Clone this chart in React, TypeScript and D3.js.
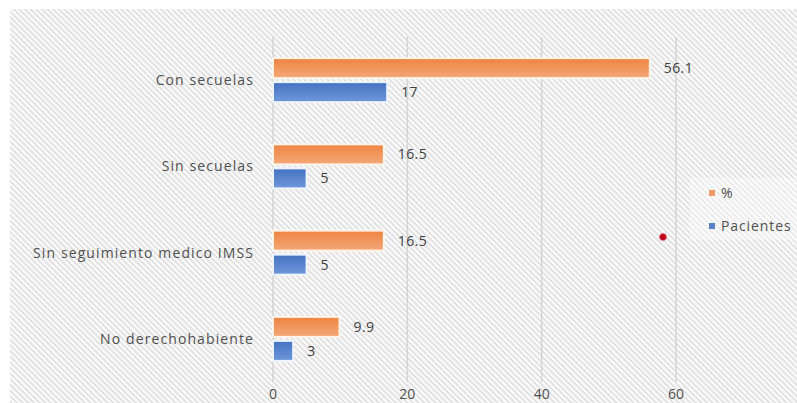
import React from "react";
import * as d3 from "d3";

const categories = ["Con secuelas", "Sin secuelas", "Sin seguimiento medico IMSS", "No derechohabiente"];
const pctValues = [56.1, 16.5, 16.5, 9.9];
const patientValues = [17, 5, 5, 3];
const xTicks = [0, 20, 40, 60];
const seriesNames = ["%", "Pacientes"];

const W = 797;
const H = 403;

export default function App() {
  const x = d3.scaleLinear().domain([0, 60]).range([273, 676]);
  const y = d3.scaleBand<string>().domain(categories).range([37, 382]);
  const barH = 20;
  const labelFont = "'Open Sans', 'Liberation Sans', Arial, sans-serif";
  const textColor = "#505050";

  return (
    <div style={{ position: "absolute", left: 0, top: 0 }}>
      <svg width={W} height={H} style={{ display: "block" }}>
        <defs>
          <pattern id="hatch" width="4" height="4" patternUnits="userSpaceOnUse" patternTransform="rotate(45)">
            <rect width="4" height="4" fill="#fbfbfb" />
            <rect width="4" height="1.6" fill="#dcdcdc" />
          </pattern>
          <linearGradient id="gOrange" x1="0" y1="0" x2="0" y2="1">
            <stop offset="0" stopColor="#ee8442" />
            <stop offset="1" stopColor="#f4a878" />
          </linearGradient>
          <linearGradient id="gBlue" x1="0" y1="0" x2="0" y2="1">
            <stop offset="0" stopColor="#4572c2" />
            <stop offset="1" stopColor="#6f97da" />
          </linearGradient>
          <radialGradient id="gDot">
            <stop offset="0" stopColor="#c0001a" />
            <stop offset="0.55" stopColor="#c0001a" />
            <stop offset="1" stopColor="#ffdfe3" stopOpacity="0" />
          </radialGradient>
        </defs>
        <rect x={0} y={0} width={W} height={H} fill="#ffffff" />
        <rect x={10} y={9} width={W - 10} height={H - 9} fill="url(#hatch)" />

        {xTicks.map((t) => (
          <g key={t}>
            <line x1={x(t)} x2={x(t)} y1={37} y2={382} stroke="#d4d4d4" strokeWidth={1.5} />
            <text x={x(t)} y={399} textAnchor="middle" fontFamily={labelFont} fontSize={14} fill={textColor}>
              {t}
            </text>
          </g>
        ))}

        {categories.map((c, i) => {
          const cy = (y(c) as number) + y.bandwidth() / 2;
          return (
            <g key={c}>
              <text
                x={254}
                y={cy}
                dy="0.35em"
                textAnchor="end"
                fontFamily={labelFont}
                fontSize={14}
                letterSpacing={1.1}
                fill={textColor}
              >
                {c}
              </text>
              <rect
                x={x(0)}
                y={cy - 22}
                width={x(pctValues[i]) - x(0)}
                height={barH}
                fill="url(#gOrange)"
                stroke="#fff4ea"
                strokeWidth={2}
              />
              <rect
                x={x(0)}
                y={cy + 2}
                width={x(patientValues[i]) - x(0)}
                height={barH}
                fill="url(#gBlue)"
                stroke="#eef4ff"
                strokeWidth={2}
              />
              <text
                x={x(pctValues[i]) + 14}
                y={cy - 12}
                dy="0.35em"
                fontFamily={labelFont}
                fontSize={14}
                letterSpacing={0.4}
                fill="#404040"
              >
                {pctValues[i]}
              </text>
              <text
                x={x(patientValues[i]) + 14}
                y={cy + 12}
                dy="0.35em"
                fontFamily={labelFont}
                fontSize={14}
                letterSpacing={0.4}
                fill="#404040"
              >
                {patientValues[i]}
              </text>
            </g>
          );
        })}

        <rect x={690} y={178} width={107} height={62} fill="#ffffff" opacity={0.35} />
        {seriesNames.map((s, i) => (
          <g key={s} transform={`translate(709, ${193 + i * 33})`}>
            <rect x={0} y={-3} width={6} height={6} fill={i === 0 ? "#f09a63" : "#5b7fc6"} />
            <text x={12} y={0} dy="0.35em" fontFamily={labelFont} fontSize={14} letterSpacing={0.9} fill={textColor}>
              {s}
            </text>
          </g>
        ))}

        <circle cx={663} cy={237} r={5} fill="url(#gDot)" />
      </svg>
    </div>
  );
}
